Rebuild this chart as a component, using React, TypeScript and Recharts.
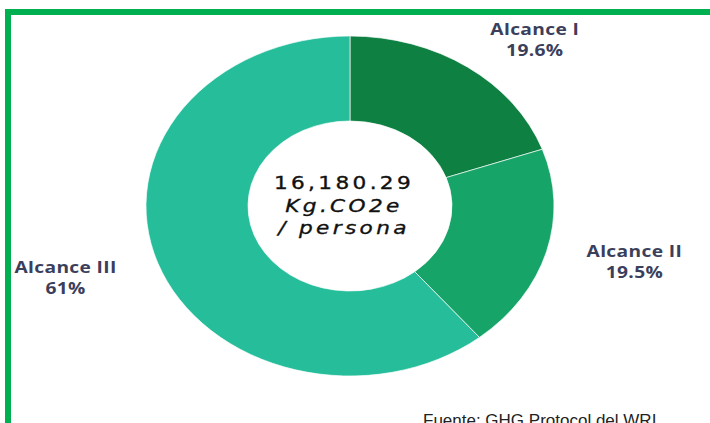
import React from "react";
import { PieChart, Pie, Cell } from "recharts";

const categories = ["Alcance I", "Alcance II", "Alcance III"];
const values = [19.6, 19.5, 61];
const valueLabels = ["19.6%", "19.5%", "61%"];
const colors = ["#0E8042", "#17A469", "#25BD9A"];
const centerLines = ["16,180.29", "Kg.CO2e", "/ persona"];
const source = "Fuente: GHG Protocol del WRI";

const data = categories.map((name, i) => ({ name, value: values[i], pct: valueLabels[i] }));

// label anchor offsets relative to pie centre (unscaled units)
const labelOffsets = [
  [154, -176],
  [237, 46],
  [-237, 62],
];

const SX = 1.2;
const CX = 350 / SX;
const CY = 206;

const renderLabel = (p: any) => {
  const off = labelOffsets[p.index];
  const x = p.cx + off[0];
  const y = p.cy + off[1];
  return (
    <text
      x={x}
      y={y}
      textAnchor="middle"
      fill="#3B3F5C"
      fontFamily="'Open Sans', sans-serif"
      fontWeight={700}
      fontSize={16}
      letterSpacing={0.3}
    >
      <tspan x={x} dy={5}>{data[p.index].name}</tspan>
      <tspan x={x} dy={21}>{data[p.index].pct}</tspan>
    </text>
  );
};

export default function App() {
  return (
    <div
      style={{
        position: "absolute",
        left: 0,
        top: 0,
        width: 710,
        height: 423,
        overflow: "hidden",
        background: "#fff",
      }}
    >
      <div
        style={{
          position: "absolute",
          left: 5,
          top: 9,
          width: 710,
          height: 423,
          borderLeft: "6px solid #00B050",
          borderTop: "6px solid #00B050",
          boxSizing: "border-box",
        }}
      />
      <div
        style={{
          position: "absolute",
          left: 0,
          top: 0,
          width: 710 / SX,
          height: 423,
          transform: `scaleX(${SX})`,
          transformOrigin: "0 0",
        }}
      >
        <PieChart width={710 / SX} height={423} margin={{ top: 0, right: 0, bottom: 0, left: 0 }}>
          <Pie
            data={data}
            dataKey="value"
            nameKey="name"
            cx={CX}
            cy={CY}
            outerRadius={170}
            innerRadius={85}
            startAngle={90}
            endAngle={-270}
            stroke="#ffffff"
            strokeWidth={0.6}
            label={renderLabel}
            labelLine={false}
            isAnimationActive={false}
          >
            {data.map((d, i) => (
              <Cell key={d.name} fill={colors[i]} />
            ))}
          </Pie>
        </PieChart>
        <div
          style={{
            position: "absolute",
            left: CX - 85,
            top: 172,
            width: 160,
            textAlign: "center",
            fontFamily: "'DejaVu Sans', sans-serif",
            fontSize: 18,
            lineHeight: "22.5px",
            letterSpacing: 2.8,
            color: "#111",
            WebkitTextStroke: "0.35px #111",
          }}
        >
          <div>{centerLines[0]}</div>
          <div style={{ fontStyle: "italic" }}>{centerLines[1]}</div>
          <div style={{ fontStyle: "italic" }}>{centerLines[2]}</div>
        </div>
      </div>
      <div
        style={{
          position: "absolute",
          left: 423,
          top: 411,
          fontFamily: "'Liberation Sans', Arial, sans-serif",
          fontSize: 17,
          color: "#222",
          whiteSpace: "nowrap",
        }}
      >
        {source}
      </div>
    </div>
  );
}
